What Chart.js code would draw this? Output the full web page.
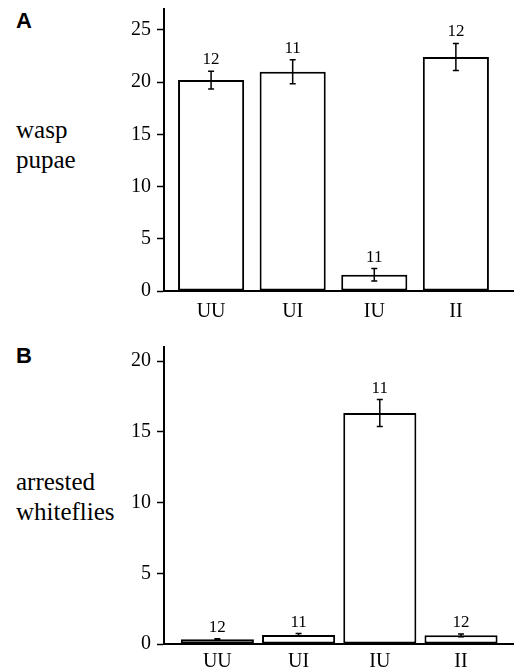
<!DOCTYPE html>
<html>
<head>
<meta charset="utf-8">
<script src="https://cdn.jsdelivr.net/npm/chart.js@4.4.1/dist/chart.umd.min.js"></script>
<style>
  body { margin: 0; background: #fff; }
  #wrap { position: relative; width: 514px; height: 669px; overflow: hidden; }
  canvas { position: absolute; left: 0; }
  .panel { position: absolute; left: 16px; font: bold 22px "Liberation Sans", Arial, sans-serif; line-height: 1; color: #000; }
  .ytitle { position: absolute; left: 16px; font: 25px "Liberation Serif", "Times New Roman", serif; line-height: 30px; color: #000; }
</style>
</head>
<body>
<div id="wrap">
  <div class="panel" style="top:10px">A</div>
  <div class="ytitle" style="top:115px">wasp<br>pupae</div>
  <canvas id="chartA" width="514" height="325" style="top:0"></canvas>

  <div class="panel" style="top:345px">B</div>
  <div class="ytitle" style="top:467px">arrested<br>whiteflies</div>
  <canvas id="chartB" width="514" height="339" style="top:330px"></canvas>
</div>
<script>
// treatment combinations
const categories = ['UU', 'UI', 'IU', 'II'];

// panel A: wasp pupae (mean, SE, n)
const pupaeMean = [20.2, 21.0, 1.55, 22.4];
const pupaeErr = [0.85, 1.15, 0.6, 1.3];
const pupaeN = [12, 11, 11, 12];
const pupaeTicks = [0, 5, 10, 15, 20, 25];

// panel B: arrested whiteflies (mean, SE, n)
const whitefliesMean = [0.33, 0.64, 16.33, 0.61];
const whitefliesErr = [0.05, 0.1, 0.95, 0.1];
const whitefliesN = [12, 11, 11, 12];
const whitefliesTicks = [0, 5, 10, 15, 20];

const serif = '"Liberation Serif", "Times New Roman", serif';
Chart.defaults.font.family = serif;
Chart.defaults.color = '#000';

// error bars and n labels on top of each bar
const errorBars = {
    id: 'errorBars',
    afterDatasetsDraw(chart, args, opts) {
        const ctx = chart.ctx;
        const y = chart.scales.y;
        const meta = chart.getDatasetMeta(0);
        ctx.save();
        ctx.strokeStyle = '#000';
        ctx.lineWidth = 1.5;
        meta.data.forEach((bar, i) => {
            const m = opts.means[i], e = opts.errs[i];
            const top = y.getPixelForValue(m + e);
            const bot = y.getPixelForValue(m - e);
            ctx.beginPath();
            ctx.moveTo(bar.x, top);
            ctx.lineTo(bar.x, bot);
            ctx.moveTo(bar.x - 3, top);
            ctx.lineTo(bar.x + 3, top);
            ctx.moveTo(bar.x - 3, bot);
            ctx.lineTo(bar.x + 3, bot);
            ctx.stroke();
            ctx.fillStyle = '#000';
            ctx.font = '17px ' + serif;
            ctx.textAlign = 'center';
            ctx.textBaseline = 'alphabetic';
            ctx.fillText(String(opts.ns[i]), bar.x, top - 7);
        });
        ctx.restore();
    }
};

function makeChart(id, means, errs, ns, yTicks, yMax, xMin, xMax, barPct, padTop, xAxisH, xPad) {
    return new Chart(document.getElementById(id), {
        type: 'bar',
        data: {
            datasets: [{
                data: categories.map((c, i) => ({ x: i, y: means[i] })),
                backgroundColor: '#fff',
                borderColor: '#000',
                borderWidth: 2,
                borderSkipped: false,
                barPercentage: barPct,
                categoryPercentage: 1
            }]
        },
        options: {
            responsive: false,
            animation: false,
            devicePixelRatio: 1,
            layout: { padding: { top: padTop, right: 1, left: 0, bottom: 0 } },
            plugins: {
                legend: { display: false },
                tooltip: { enabled: false },
                errorBars: { means: means, errs: errs, ns: ns }
            },
            scales: {
                x: {
                    type: 'linear',
                    min: xMin,
                    max: xMax,
                    offset: false,
                    afterBuildTicks: s => { s.ticks = categories.map((c, i) => ({ value: i })); },
                    afterFit: s => { s.height = xAxisH; s.paddingLeft = 0; s.paddingRight = 0; },
                    ticks: {
                        callback: v => categories[v],
                        font: { size: 20 },
                        padding: xPad,
                        maxRotation: 0,
                        autoSkip: false
                    },
                    grid: { display: false, offset: false, drawTicks: false },
                    border: { display: true, color: '#000', width: 2 }
                },
                y: {
                    min: 0,
                    max: yMax,
                    afterBuildTicks: s => { s.ticks = yTicks.map(v => ({ value: v })); },
                    afterFit: s => { s.width = 164; s.paddingTop = 0; s.paddingBottom = 0; },
                    ticks: { font: { size: 20 }, padding: 6 },
                    grid: { drawOnChartArea: false, drawTicks: true, tickLength: 7, tickColor: '#000', tickWidth: 1.5 },
                    border: { display: true, color: '#000', width: 2 }
                }
            }
        },
        plugins: [errorBars]
    });
}

makeChart('chartA', pupaeMean, pupaeErr, pupaeN, pupaeTicks, 27, -0.577, 3.70, 0.81, 9, 34, 9);
makeChart('chartB', whitefliesMean, whitefliesErr, whitefliesN, whitefliesTicks, 21, -0.657, 3.64, 0.90, 17, 25, 6);
</script>
</body>
</html>
